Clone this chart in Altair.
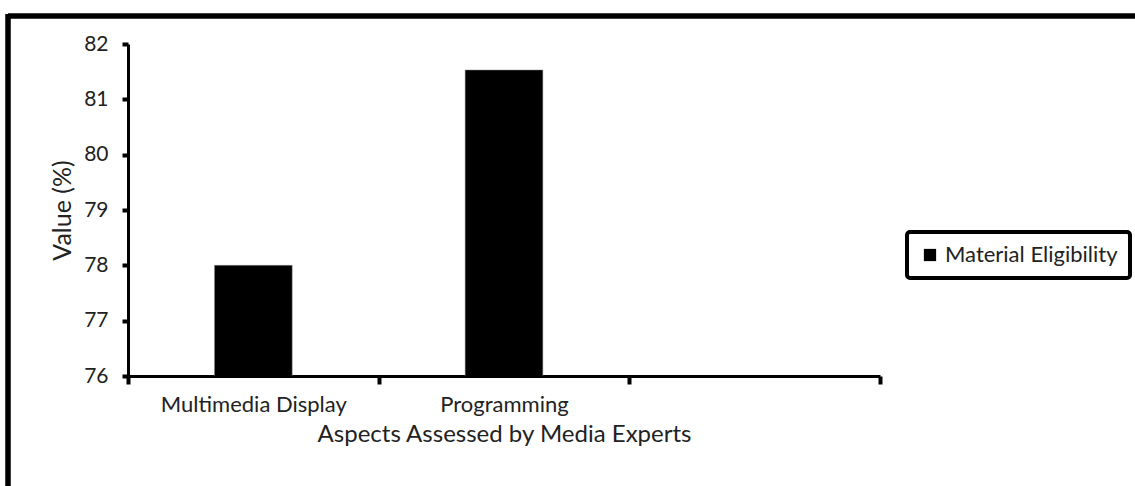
import altair as alt
import pandas as pd

categories = ["Multimedia Display", "Programming"]
domain_cats = ["Multimedia Display", "Programming", " "]
values = [78.0, 81.53]
series = ["Material Eligibility", "Material Eligibility"]

df = pd.DataFrame({"Aspect": categories, "Value": values, "Series": series})

FONT = "Lato"

bars = alt.Chart(df).mark_bar(stroke="#888888", strokeWidth=0.5, clip=True,
                              width=alt.RelativeBandSize(0.31)).encode(
    x=alt.X("Aspect:N", sort=domain_cats,
            scale=alt.Scale(domain=domain_cats, paddingInner=0, paddingOuter=0),
            axis=alt.Axis(title="Aspects Assessed by Media Experts", labelAngle=0,
                          tickBand="extent", tickSize=8, tickWidth=4, tickColor="black",
                          domainColor="black", domainWidth=3, labelPadding=10, labelLimit=400,
                          labelFontSize=22, titleFontSize=24, titleFontWeight="normal",
                          labelColor="#222222", titleColor="#222222",
                          labelFont=FONT, titleFont=FONT, titlePadding=7, grid=False)),
    y=alt.Y("Value:Q", scale=alt.Scale(domain=[76, 82], nice=False, zero=False),
            axis=alt.Axis(title="Value (%)", values=[76, 77, 78, 79, 80, 81, 82],
                          tickSize=6, tickWidth=4, tickColor="black", domainColor="black",
                          domainWidth=3, labelPadding=14, labelFontSize=21, titleFontSize=25,
                          titleFontWeight="normal", labelColor="#222222", titleColor="#222222",
                          labelFont=FONT, titleFont=FONT, titlePadding=8, grid=False)),
    color=alt.Color("Series:N", scale=alt.Scale(range=["black"]),
                    legend=alt.Legend(title=None, orient="none", legendX=779, legendY=188,
                                      strokeColor="black", cornerRadius=3, labelLimit=400,
                                      padding=12, symbolType="square", symbolSize=150,
                                      labelFontSize=22, labelFont=FONT, labelColor="#222222",
                                      symbolStrokeWidth=0)),
)

border_top = alt.Chart(df).mark_rule(color="black", strokeWidth=5).encode(
    x=alt.value(-120), x2=alt.value(1020), y=alt.value(-28))
border_left = alt.Chart(df).mark_rule(color="black", strokeWidth=5).encode(
    x=alt.value(-120), y=alt.value(-30), y2=alt.value(460))

chart = alt.layer(bars, border_top, border_left).properties(
    width=752, height=332,
    autosize=alt.AutoSizeParams(type="none"),
    padding={"left": 128, "top": 44, "right": 255, "bottom": 110},
).configure(background="white").configure_view(strokeWidth=0, stroke="transparent").configure_legend(strokeWidth=4)

chart.save("out.html", embed_options={"renderer": "svg", "actions": False})
